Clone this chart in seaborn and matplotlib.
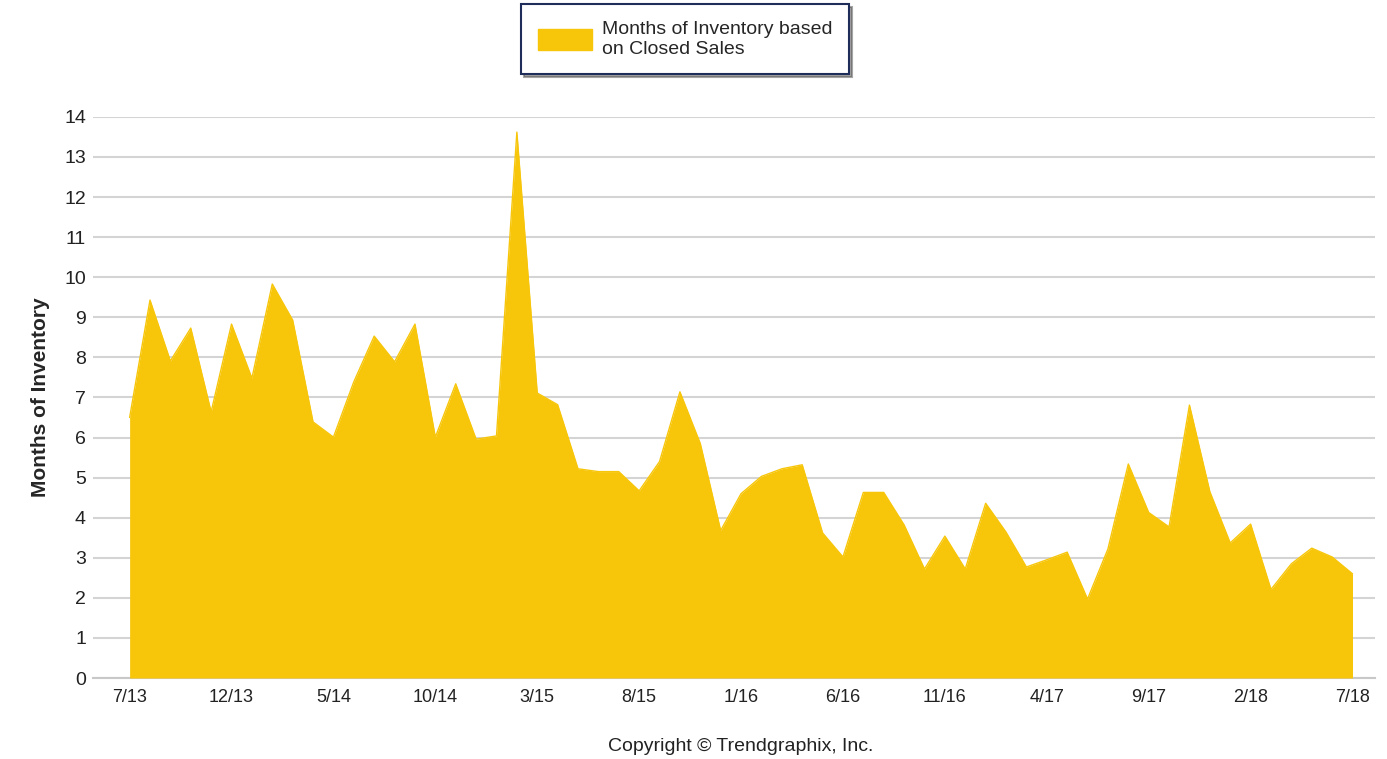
import numpy as np
import pandas as pd
import matplotlib
matplotlib.use("Agg")
import matplotlib.pyplot as plt
import seaborn as sns
from matplotlib.patches import Patch

# monthly values, 7/13 .. 7/18
months_inventory = [
    6.5, 9.43, 7.91, 8.73, 6.64, 8.83, 7.48, 9.83, 8.93, 6.39,
    6.01, 7.39, 8.53, 7.89, 8.83, 6.01, 7.34, 5.96, 6.04, 13.62,
    7.11, 6.82, 5.22, 5.15, 5.15, 4.67, 5.4, 7.14, 5.85, 3.68,
    4.6, 5.03, 5.22, 5.32, 3.62, 3.02, 4.63, 4.63, 3.82, 2.72,
    3.54, 2.72, 4.36, 3.64, 2.77, 2.95, 3.14, 1.97, 3.22, 5.34,
    4.13, 3.77, 6.81, 4.65, 3.37, 3.84, 2.21, 2.85, 3.24, 3.02,
    2.6,
]
tick_labels = ["7/13", "12/13", "5/14", "10/14", "3/15", "8/15", "1/16",
               "6/16", "11/16", "4/17", "9/17", "2/18", "7/18"]
y_ticks = list(range(0, 15))

df = pd.DataFrame({"month": np.arange(len(months_inventory)),
                   "value": months_inventory})

sns.set_style("white")
plt.rcParams["font.family"] = ["Liberation Sans", "DejaVu Sans"]

gold = "#F7C60B"

fig = plt.figure(figsize=(13.87, 7.59), dpi=100)
ax = fig.add_axes([0.067, 0.1067, 0.924, 0.7393])

ax.fill_between(df["month"], 0, df["value"], color=gold, linewidth=0, zorder=3)
sns.lineplot(data=df, x="month", y="value", ax=ax, color=gold, linewidth=1, zorder=3)

ax.set_xlim(-1.8, 61.08)
ax.set_ylim(0, 14)
ax.set_yticks(y_ticks)
ax.set_yticklabels([str(t) for t in y_ticks], fontsize=14, color="#222222")
ax.set_xticks(np.arange(0, len(months_inventory), 5))
ax.set_xticklabels(tick_labels, fontsize=13, color="#222222")

ax.grid(axis="y", color="#d4d4d4", linewidth=1.5, zorder=0)
ax.set_axisbelow(True)
for s in ["top", "right", "left"]:
    ax.spines[s].set_visible(False)
ax.spines["bottom"].set_color("#c8c8c8")
ax.spines["bottom"].set_linewidth(1.5)
ax.tick_params(axis="x", length=6, width=1, color="#c8c8c8", pad=2)
ax.tick_params(axis="y", length=0, pad=5)

ax.set_xlabel("")
ax.set_ylabel("Months of Inventory", fontsize=15, fontweight="bold", labelpad=10)

fig.text(0.534, 0.01, "Copyright \u00a9 Trendgraphix, Inc.", ha="center",
         fontsize=14, color="#222222")

handle = Patch(facecolor=gold, edgecolor=gold)
leg = fig.legend([handle], ["Months of Inventory based\non Closed Sales"],
                 loc="upper center", bbox_to_anchor=(0.494, 0.998),
                 fontsize=14, frameon=True, fancybox=False, shadow=True,
                 handlelength=2.8, handleheight=1.3, borderpad=0.85,
                 handletextpad=0.5, borderaxespad=0.15)
leg.get_frame().set_edgecolor("#1f2d5a")
leg.get_frame().set_linewidth(1.5)
for t in leg.get_texts():
    t.set_linespacing(1.2)

fig.savefig("out.png", dpi=100)
